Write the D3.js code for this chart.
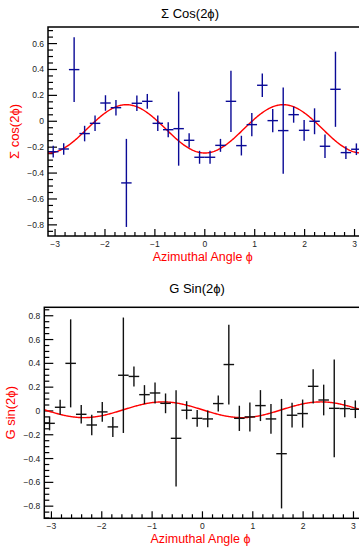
<!DOCTYPE html>
<html>
<head>
<meta charset="utf-8">
<script src="https://cdn.jsdelivr.net/npm/d3@7"></script>
<style>
  body { margin: 0; background: #fff; }
  text { font-family: "Liberation Sans", Arial, sans-serif; }
</style>
</head>
<body>
<div id="chart"></div>
<script>
// bin centres (30 bins over -pi..pi)
var phiBins = [-3.037, -2.827, -2.618, -2.408, -2.199, -1.990, -1.780, -1.571, -1.361, -1.152,
               -0.942, -0.733, -0.524, -0.314, -0.105, 0.105, 0.314, 0.524, 0.733, 0.942,
               1.152, 1.361, 1.571, 1.780, 1.990, 2.199, 2.408, 2.618, 2.827, 3.037];
var binHalf = 0.1047;

var cosVals = [-0.235, -0.214, 0.399, -0.095, -0.016, 0.141, 0.105, -0.476, 0.139, 0.154,
               -0.016, -0.065, -0.057, -0.147, -0.278, -0.278, -0.186, 0.154, -0.188, -0.026,
               0.278, 0.005, -0.072, 0.051, -0.070, 0.000, -0.193, 0.247, -0.242, -0.216];
var cosErrs = [0.045, 0.045, 0.250, 0.060, 0.060, 0.060, 0.060, 0.340, 0.060, 0.057,
               0.060, 0.058, 0.286, 0.055, 0.050, 0.050, 0.050, 0.237, 0.076, 0.090,
               0.090, 0.090, 0.333, 0.062, 0.080, 0.100, 0.090, 0.290, 0.050, 0.045];

var sinVals = [-0.104, 0.031, 0.400, -0.028, -0.118, -0.008, -0.134, 0.300, 0.290, 0.137,
               0.151, 0.064, -0.230, 0.006, -0.062, -0.067, 0.062, 0.390, -0.062, -0.050,
               0.045, -0.067, -0.359, -0.036, -0.022, 0.207, 0.092, 0.022, 0.020, 0.014];
var sinErrs = [0.059, 0.063, 0.370, 0.077, 0.087, 0.083, 0.084, 0.485, 0.084, 0.080,
               0.088, 0.083, 0.405, 0.076, 0.070, 0.070, 0.067, 0.335, 0.106, 0.122,
               0.130, 0.125, 0.460, 0.104, 0.118, 0.144, 0.129, 0.410, 0.073, 0.074];

// fit parameters  p0 + p1*f(2phi)
var cosFit = [-0.0585, -0.1865];
var sinFit = [0.010, -0.066];

var xTickVals = [-3, -2, -1, 0, 1, 2, 3];
var yTickVals = [-0.8, -0.6, -0.4, -0.2, 0, 0.2, 0.4, 0.6, 0.8];

var W = 359, H = 546;
var svg = d3.select("#chart").append("svg")
    .attr("width", W).attr("height", H)
    .style("display", "block");
svg.append("rect").attr("width", W).attr("height", H).attr("fill", "#fff");

function fmt(v) {
  if (Math.abs(v) < 1e-9) return "0";
  var s = d3.format(".1f")(Math.abs(v));
  if (Number.isInteger(v)) s = String(Math.abs(v));
  return (v < 0 ? "\u2212" : "") + s;
}

function panel(cfg) {
  var x = d3.scaleLinear().domain([-Math.PI, Math.PI]).range([cfg.left, cfg.right]);
  var y = d3.scaleLinear().domain(cfg.ydom).range([cfg.bottom, cfg.top]);
  var g = svg.append("g");

  // title
  g.append("text").attr("x", cfg.titleX).attr("y", cfg.titleY)
    .attr("text-anchor", "middle").style("font-size", "13px").attr("fill", "#000")
    .text(cfg.title);

  // y ticks (inside, pointing right)
  var yMinor = d3.range(-0.9, 0.9001, 0.05).map(function(v) { return Math.round(v * 100) / 100; })
      .filter(function(v) { return v >= cfg.ydom[0] && v <= cfg.ydom[1]; });
  g.selectAll(".ymin").data(yMinor).enter().append("line")
    .attr("x1", cfg.left).attr("x2", function(d) {
      return cfg.left + (Math.abs(Math.round(d * 10) % 2) === 0 && Math.abs(d * 10 - Math.round(d * 10)) < 1e-6 ? 9 : 5);
    })
    .attr("y1", function(d) { return y(d); }).attr("y2", function(d) { return y(d); })
    .attr("stroke", "#000").attr("stroke-width", 1.2);
  var yt = yTickVals.filter(function(v) { return v >= cfg.ydom[0] && v <= cfg.ydom[1]; });
  g.selectAll(".ylab").data(yt).enter().append("text")
    .attr("x", cfg.left - 4).attr("y", function(d) { return y(d) + 3; })
    .attr("text-anchor", "end").style("font-size", "8.5px").attr("fill", "#222")
    .text(fmt);

  // x ticks (inside, pointing up)
  var xMinor = d3.range(-3.2, 3.2001, 0.2).map(function(v) { return Math.round(v * 10) / 10; })
      .filter(function(v) { return v >= -Math.PI && v <= Math.PI; });
  g.selectAll(".xmin").data(xMinor).enter().append("line")
    .attr("x1", function(d) { return x(d); }).attr("x2", function(d) { return x(d); })
    .attr("y1", cfg.bottom).attr("y2", function(d) {
      return cfg.bottom - (Number.isInteger(d) ? 7 : 4);
    })
    .attr("stroke", "#000").attr("stroke-width", 1.2);
  g.selectAll(".xlab").data(xTickVals).enter().append("text")
    .attr("x", function(d) { return x(d); }).attr("y", cfg.bottom + 11)
    .attr("text-anchor", "middle").style("font-size", "8.5px").attr("fill", "#222")
    .text(fmt);

  // fit curve
  var fitPts = d3.range(0, 401).map(function(i) {
    var p = -Math.PI + i * (2 * Math.PI / 400);
    return [p, cfg.fit[0] + cfg.fit[1] * cfg.fn(2 * p)];
  });
  g.append("path").datum(fitPts)
    .attr("d", d3.line().x(function(d) { return x(d[0]); }).y(function(d) { return y(d[1]); }))
    .attr("fill", "none").attr("stroke", "#f00").attr("stroke-width", 1.4);

  // data crosses
  var pts = phiBins.map(function(p, i) { return { x: p, v: cfg.vals[i], e: cfg.errs[i] }; });
  var cr = g.append("g").selectAll("g").data(pts).enter().append("g");
  cr.append("line")
    .attr("x1", function(d) { return x(d.x); }).attr("x2", function(d) { return x(d.x); })
    .attr("y1", function(d) { return y(d.v - d.e); }).attr("y2", function(d) { return y(d.v + d.e); })
    .attr("stroke", cfg.color).attr("stroke-width", 1.4);
  cr.append("line")
    .attr("x1", function(d) { return x(d.x - binHalf); }).attr("x2", function(d) { return x(d.x + binHalf); })
    .attr("y1", function(d) { return y(d.v); }).attr("y2", function(d) { return y(d.v); })
    .attr("stroke", cfg.color).attr("stroke-width", 1.4);

  // frame
  g.append("rect").attr("x", cfg.left).attr("y", cfg.top)
    .attr("width", cfg.right - cfg.left).attr("height", cfg.bottom - cfg.top)
    .attr("fill", "none").attr("stroke", "#000").attr("stroke-width", 1.5);

  // axis titles
  g.append("text").attr("x", (cfg.left + cfg.right) / 2 - 2).attr("y", cfg.bottom + 25)
    .attr("text-anchor", "middle").style("font-size", "12.5px").attr("fill", "#f00")
    .text("Azimuthal Angle \u03d5");
  g.append("text")
    .attr("transform", "translate(" + (cfg.left - 29) + "," + ((cfg.top + cfg.bottom) / 2) + ") rotate(-90)")
    .attr("text-anchor", "middle").style("font-size", "13px").attr("fill", "#f00")
    .text(cfg.ytitle);
}

panel({
  left: 48, right: 361.6, top: 27, bottom: 236,
  ydom: [-0.886, 0.728],
  title: "\u03a3 Cos(2\u03d5)", titleX: 190, titleY: 18,
  ytitle: "\u03a3 cos(2\u03d5)",
  vals: cosVals, errs: cosErrs, fit: cosFit, fn: Math.cos, color: "#0a0a96"
});

panel({
  left: 44.3, right: 360.6, top: 307.3, bottom: 518.3,
  ydom: [-0.902, 0.871],
  title: "G Sin(2\u03d5)", titleX: 197, titleY: 293,
  ytitle: "G sin(2\u03d5)",
  vals: sinVals, errs: sinErrs, fit: sinFit, fn: Math.sin, color: "#111"
});
</script>
</body>
</html>
